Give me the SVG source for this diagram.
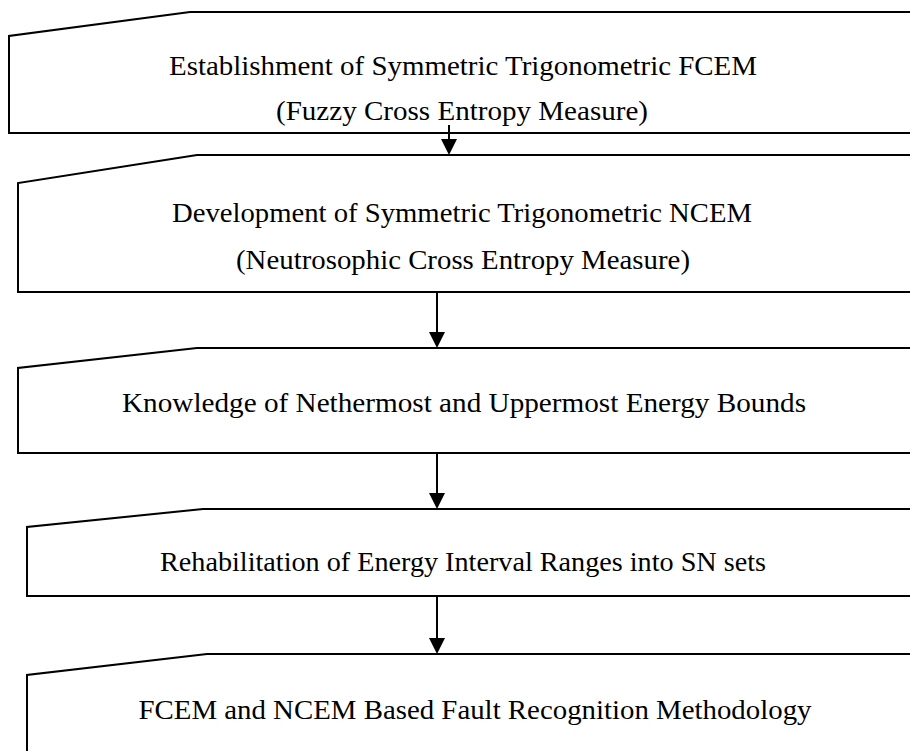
<svg xmlns="http://www.w3.org/2000/svg" width="910" height="751" viewBox="0 0 910 751">
  <style>
    .box { fill: #ffffff; stroke: #000000; stroke-width: 2; stroke-linejoin: miter; }
    .lbl { font-family: "Liberation Serif", "Times New Roman", serif; font-size: 27px; fill: #000000; text-anchor: middle; }
    .conn { stroke: #000000; stroke-width: 2; fill: none; }
    .head { fill: #000000; stroke: none; }
  </style>
  <rect x="0" y="0" width="910" height="751" fill="#ffffff"/>

  <g id="node1">
    <path class="box" d="M 930 12 L 190 12 L 9 36 L 9 133 L 930 133"/>
    <text class="lbl" x="463" y="75" textLength="588" lengthAdjust="spacingAndGlyphs">Establishment of Symmetric Trigonometric FCEM</text>
    <text class="lbl" x="462" y="120" textLength="372" lengthAdjust="spacingAndGlyphs">(Fuzzy Cross Entropy Measure)</text>
  </g>

  <g id="node2">
    <path class="box" d="M 930 155 L 197 155 L 18 183 L 18 292 L 930 292"/>
    <text class="lbl" x="462" y="222" textLength="580" lengthAdjust="spacingAndGlyphs">Development of Symmetric Trigonometric NCEM</text>
    <text class="lbl" x="463" y="269" textLength="454" lengthAdjust="spacingAndGlyphs">(Neutrosophic Cross Entropy Measure)</text>
  </g>

  <g id="node3">
    <path class="box" d="M 930 348 L 197 348 L 18 368 L 18 453 L 930 453"/>
    <text class="lbl" x="464" y="412" textLength="684" lengthAdjust="spacingAndGlyphs">Knowledge of Nethermost and Uppermost Energy Bounds</text>
  </g>

  <g id="node4">
    <path class="box" d="M 930 509 L 203 509 L 27 527 L 27 596 L 930 596"/>
    <text class="lbl" x="463" y="571" textLength="606" lengthAdjust="spacingAndGlyphs">Rehabilitation of Energy Interval Ranges into SN sets</text>
  </g>

  <g id="node5">
    <path class="box" d="M 930 654 L 207 654 L 27 675 L 27 770 L 930 770"/>
    <text class="lbl" x="475" y="719" textLength="673" lengthAdjust="spacingAndGlyphs">FCEM and NCEM Based Fault Recognition Methodology</text>
  </g>

  <g id="connectors">
    <line class="conn" x1="449" y1="125" x2="449" y2="141"/>
    <polygon class="head" points="441,139 457,139 449,155"/>
    <line class="conn" x1="437" y1="292" x2="437" y2="334"/>
    <polygon class="head" points="429,332 445,332 437,348"/>
    <line class="conn" x1="437" y1="453" x2="437" y2="495"/>
    <polygon class="head" points="429,493 445,493 437,509"/>
    <line class="conn" x1="437" y1="596" x2="437" y2="640"/>
    <polygon class="head" points="429,638 445,638 437,654"/>
  </g>
</svg>
